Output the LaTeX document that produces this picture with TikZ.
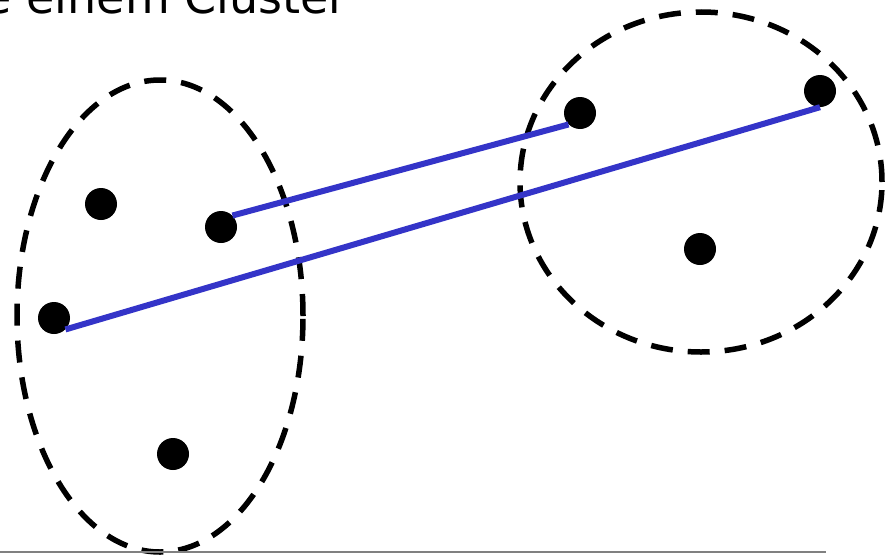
\documentclass[tikz,border=0pt]{standalone}
\usepackage{fontspec}
\setmainfont{DejaVu Sans}
\usetikzlibrary{positioning,shapes.geometric}
\definecolor{linkblue}{RGB}{52,52,200}
\tikzset{
  pt/.style={circle,fill=black,inner sep=0pt,minimum size=32pt},
  clust/.style={ellipse,draw=black,line width=5.5pt,dash pattern=on 22pt off 15pt,inner sep=0pt},
  link/.style={draw=linkblue,line width=6pt},
  ttl/.style={font=\fontsize{46}{54}\selectfont,anchor=base east,inner sep=0pt}
}
\begin{document}
\begin{tikzpicture}[x=1pt,y=-1pt]
  \useasboundingbox (0,0) rectangle (890,554);
  % title (cut off by the page)
  \node[ttl] (title) at (348,13) {e einem Cluster};

  % clusters
  \node[clust,minimum width=286pt,minimum height=472pt] (cl1) at (160,316) {};
  \node[clust,minimum width=362pt,minimum height=340pt] (cl2) at (701,182) {};

  % points of the left cluster
  \node[pt] (p1) at (101,204) {};
  \node[pt] (p2) at (221,227) {};
  \node[pt] (p3) at (54,318) {};
  \node[pt] (p4) at (173,454) {};

  % points of the right cluster
  \node[pt] (q1) at (580,113) {};
  \node[pt] (q2) at (820,91) {};
  \node[pt] (q3) at (700,249) {};

  % distances
  \draw[link] (p2.north east) -- (q1.south west);
  \draw[link] (p3.south east) -- (q2.south);

  % bottom rule
  \coordinate (r0) at (0,552);
  \coordinate (r1) at (826,552);
  \draw[gray,line width=2pt] (r0) -- (r1);
\end{tikzpicture}
\end{document}
